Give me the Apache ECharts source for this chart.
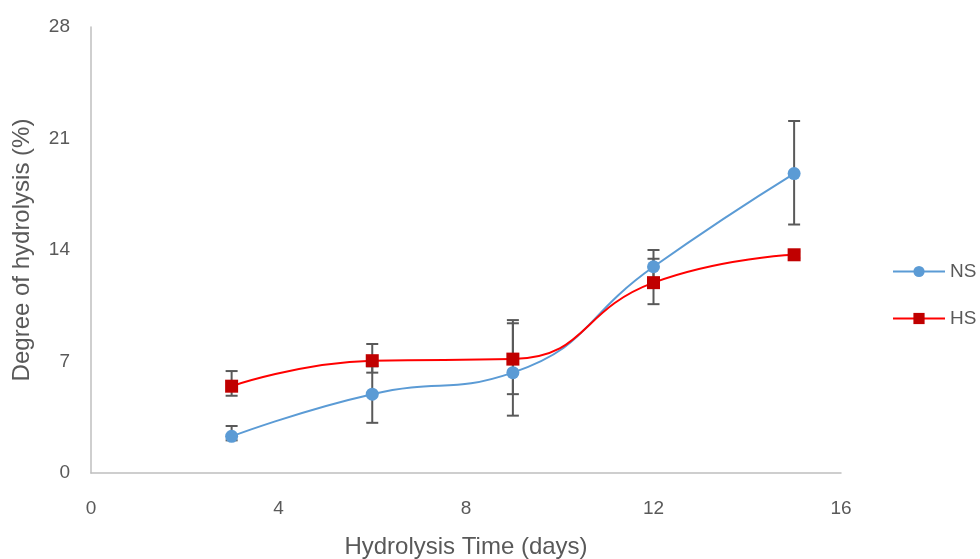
<!DOCTYPE html>
<html>
<head>
<meta charset="utf-8">
<script src="https://cdn.jsdelivr.net/npm/echarts@6/dist/echarts.min.js"></script>
<style>
  html, body { margin: 0; padding: 0; background: #fff; }
  #chart { width: 980px; height: 559px; }
</style>
</head>
<body>
<div id="chart"></div>
<script>
// Hydrolysis time (days)
const days = [3, 6, 9, 12, 15];

// Degree of hydrolysis (%) — NS
const nsValues = [2.3, 4.95, 6.3, 12.95, 18.8];
const nsLow    = [2.05, 3.15, 3.6, 11.85, 15.6];
const nsHigh   = [2.95, 6.7, 9.6, 14.0, 22.1];

// Degree of hydrolysis (%) — HS
const hsValues = [5.45, 7.05, 7.15, 11.95, 13.7];
const hsLow    = [4.85, 6.3, 4.95, 10.6, 13.5];
const hsHigh   = [6.4, 8.1, 9.4, 13.45, 13.9];

// Axis ticks
const xTicks = [0, 4, 8, 12, 16];
const yTicks = [0, 7, 14, 21, 28];

const FONT = 'Liberation Sans';
const TEXT = '#595959';

function pairs(xs, ys) { return xs.map((x, i) => [x, ys[i]]); }
function errRows(xs, lo, hi) { return xs.map((x, i) => [x, lo[i], hi[i]]); }

function errorBarRender(params, api) {
  const x = api.value(0);
  const lo = api.coord([x, api.value(1)]);
  const hi = api.coord([x, api.value(2)]);
  const half = 6;
  const style = { stroke: '#595959', lineWidth: 2 };
  return {
    type: 'group',
    children: [
      { type: 'line', shape: { x1: lo[0], y1: lo[1], x2: hi[0], y2: hi[1] }, style },
      { type: 'line', shape: { x1: lo[0] - half, y1: lo[1], x2: lo[0] + half, y2: lo[1] }, style },
      { type: 'line', shape: { x1: hi[0] - half, y1: hi[1], x2: hi[0] + half, y2: hi[1] }, style }
    ]
  };
}

const chart = echarts.init(document.getElementById('chart'), null, { renderer: 'canvas' });
chart.setOption({
  backgroundColor: '#fff',
  animation: false,
  grid: { left: 91, right: 139, top: 27, bottom: 86, containLabel: false, outerBoundsMode: 'none' },
  legend: {
    orient: 'vertical',
    left: 887,
    top: 257,
    itemWidth: 52,
    itemHeight: 14,
    itemGap: 28,
    data: ['NS', 'HS'],
    textStyle: { fontFamily: FONT, fontSize: 19, color: TEXT }
  },
  xAxis: {
    type: 'value',
    min: xTicks[0],
    max: xTicks[xTicks.length - 1],
    interval: 4,
    name: 'Hydrolysis Time (days)',
    nameLocation: 'middle',
    nameGap: 62,
    nameTextStyle: { fontFamily: FONT, fontSize: 24, color: TEXT },
    axisLine: { lineStyle: { color: '#BFBFBF', width: 1.5 } },
    axisTick: { show: false },
    splitLine: { show: false },
    axisLabel: { fontFamily: FONT, fontSize: 19, color: TEXT, margin: 26 }
  },
  yAxis: {
    type: 'value',
    min: yTicks[0],
    max: yTicks[yTicks.length - 1],
    interval: 7,
    name: 'Degree of hydrolysis (%)',
    nameLocation: 'middle',
    nameGap: 57,
    nameTextStyle: { fontFamily: FONT, fontSize: 24, color: TEXT },
    axisLine: { show: true, lineStyle: { color: '#BFBFBF', width: 1.5 } },
    axisTick: { show: false },
    splitLine: { show: false },
    axisLabel: { fontFamily: FONT, fontSize: 19, color: TEXT, margin: 21 }
  },
  series: [
    {
      name: 'NS',
      type: 'line',
      smooth: 0.5,
      data: pairs(days, nsValues),
      symbol: 'circle',
      symbolSize: 13,
      z: 3,
      lineStyle: { color: '#5B9BD5', width: 2 },
      itemStyle: { color: '#5B9BD5' }
    },
    {
      name: 'HS',
      type: 'line',
      smooth: 0.5,
      data: pairs(days, hsValues),
      symbol: 'rect',
      symbolSize: 13,
      z: 3,
      lineStyle: { color: '#FF0000', width: 2 },
      itemStyle: { color: '#C00000' }
    },
    {
      name: 'NS error',
      type: 'custom',
      renderItem: errorBarRender,
      data: errRows(days, nsLow, nsHigh),
      z: 2,
      silent: true
    },
    {
      name: 'HS error',
      type: 'custom',
      renderItem: errorBarRender,
      data: errRows(days, hsLow, hsHigh),
      z: 2,
      silent: true
    }
  ]
});
</script>
</body>
</html>
